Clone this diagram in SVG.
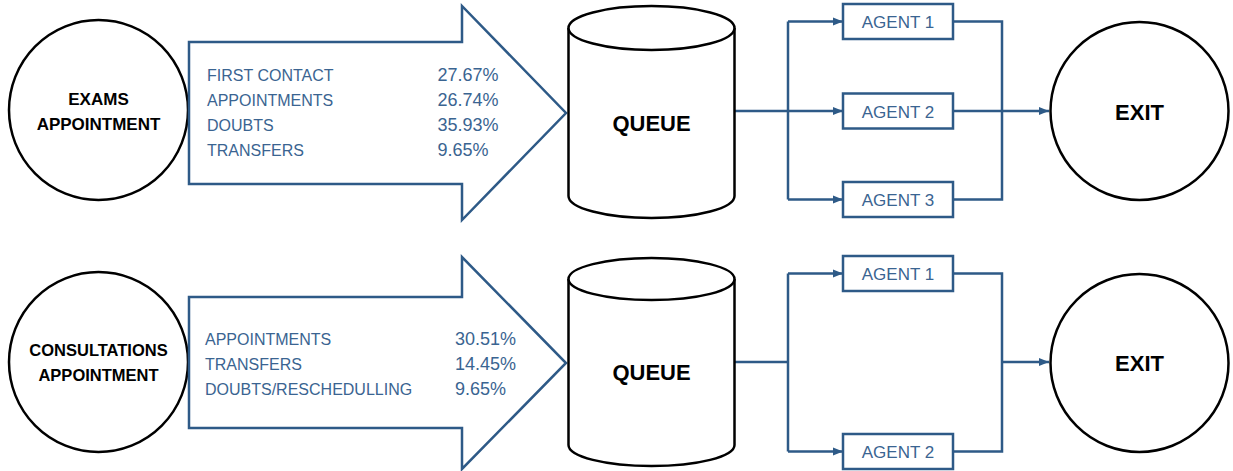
<svg xmlns="http://www.w3.org/2000/svg" width="1233" height="471" viewBox="0 0 1233 471">
<defs>
<style>
.bk{fill:#fff;stroke:#000;stroke-width:2.5}
.ar{fill:#fff;stroke:#2e5a87;stroke-width:2.5;stroke-linejoin:miter}
.ag{fill:#fff;stroke:#2e5a87;stroke-width:2.5}
.cn{fill:none;stroke:#2e5a87;stroke-width:2.5}
.bt{font-family:"Liberation Sans",Arial,sans-serif;font-weight:bold;fill:#000;text-anchor:middle}
.lt{font-family:"Liberation Sans",Arial,sans-serif;font-size:16px;fill:#3a6491}
.pc{font-family:"Liberation Sans",Arial,sans-serif;font-size:18px;fill:#3a6491}
.at{font-family:"Liberation Sans",Arial,sans-serif;font-size:17px;fill:#3a6491;text-anchor:middle}
</style>
<marker id="ah" markerUnits="userSpaceOnUse" markerWidth="10" markerHeight="10" viewBox="0 0 10 10" refX="10" refY="5" orient="auto">
<path d="M0,1 L10,5 L0,9 Z" fill="#2e5a87"/>
</marker>
</defs>

<g id="connectors">
<!-- top -->
<path class="cn" d="M735,111 H788"/>
<path class="cn" d="M788,21.5 V199.5"/>
<path class="cn" d="M788,21.5 H843" marker-end="url(#ah)"/>
<path class="cn" d="M788,111 H843" marker-end="url(#ah)"/>
<path class="cn" d="M788,199.5 H843" marker-end="url(#ah)"/>
<path class="cn" d="M953,21.5 H1002 V199.5 H953"/>
<path class="cn" d="M953,111 H1049" marker-end="url(#ah)"/>
<!-- bottom -->
<path class="cn" d="M735,362 H788"/>
<path class="cn" d="M788,273.5 V451.5"/>
<path class="cn" d="M788,273.5 H843" marker-end="url(#ah)"/>
<path class="cn" d="M788,451.5 H843" marker-end="url(#ah)"/>
<path class="cn" d="M953,273.5 H1002 V451.5 H953"/>
<path class="cn" d="M1002,362 H1049" marker-end="url(#ah)"/>
</g>

<g id="exams-appointment">
<ellipse class="bk" cx="98.5" cy="110" rx="89.5" ry="90"/>
<text class="bt" x="98.5" y="105" font-size="17">EXAMS</text>
<text class="bt" x="98.5" y="130" font-size="17">APPOINTMENT</text>
</g>

<g id="exams-arrow">
<path class="ar" d="M189,42 H462 V6 L566,113 L462,220 V184 H189 Z"/>
<text class="lt" x="207" y="81">FIRST CONTACT</text>
<text class="pc" x="437.5" y="81">27.67%</text>
<text class="lt" x="207" y="106">APPOINTMENTS</text>
<text class="pc" x="437.5" y="106">26.74%</text>
<text class="lt" x="207" y="131">DOUBTS</text>
<text class="pc" x="437.5" y="131">35.93%</text>
<text class="lt" x="207" y="156">TRANSFERS</text>
<text class="pc" x="437.5" y="156">9.65%</text>
</g>

<g id="queue-1">
<path class="bk" d="M568.5,28 V196 A83,22 0 0 0 734.5,196 V28"/>
<ellipse class="bk" cx="651.5" cy="28" rx="83" ry="22"/>
<text class="bt" x="651.5" y="130.5" font-size="22">QUEUE</text>
</g>

<g id="agent-1a"><rect class="ag" x="843" y="4" width="110" height="35"/><text class="at" x="898" y="28">AGENT 1</text></g>
<g id="agent-2a"><rect class="ag" x="843" y="93.5" width="110" height="35"/><text class="at" x="898" y="117.5">AGENT 2</text></g>
<g id="agent-3a"><rect class="ag" x="843" y="182" width="110" height="35"/><text class="at" x="898" y="206">AGENT 3</text></g>

<g id="exit-1">
<ellipse class="bk" cx="1139.5" cy="111" rx="89" ry="89"/>
<text class="bt" x="1139.5" y="120" font-size="22">EXIT</text>
</g>

<g id="consultations-appointment">
<ellipse class="bk" cx="98.5" cy="362" rx="89.5" ry="90"/>
<text class="bt" x="98.5" y="356" font-size="16.5">CONSULTATIONS</text>
<text class="bt" x="98.5" y="381" font-size="16.5">APPOINTMENT</text>
</g>

<g id="consultations-arrow">
<path class="ar" d="M189,297 H462 V257 L566,363 L462,469 V428 H189 Z"/>
<text class="lt" x="205" y="345">APPOINTMENTS</text>
<text class="pc" x="455" y="345">30.51%</text>
<text class="lt" x="205" y="370">TRANSFERS</text>
<text class="pc" x="455" y="370">14.45%</text>
<text class="lt" x="205" y="395">DOUBTS/RESCHEDULLING</text>
<text class="pc" x="455" y="395">9.65%</text>
</g>

<g id="queue-2">
<path class="bk" d="M568.5,279 V445 A83,21 0 0 0 734.5,445 V279"/>
<ellipse class="bk" cx="651.5" cy="279" rx="83" ry="21"/>
<text class="bt" x="651.5" y="380" font-size="22">QUEUE</text>
</g>

<g id="agent-1b"><rect class="ag" x="843" y="256" width="110" height="35"/><text class="at" x="898" y="280">AGENT 1</text></g>
<g id="agent-2b"><rect class="ag" x="843" y="434" width="110" height="35"/><text class="at" x="898" y="458">AGENT 2</text></g>

<g id="exit-2">
<ellipse class="bk" cx="1139.5" cy="363" rx="89" ry="89"/>
<text class="bt" x="1139.5" y="371" font-size="22">EXIT</text>
</g>
</svg>
